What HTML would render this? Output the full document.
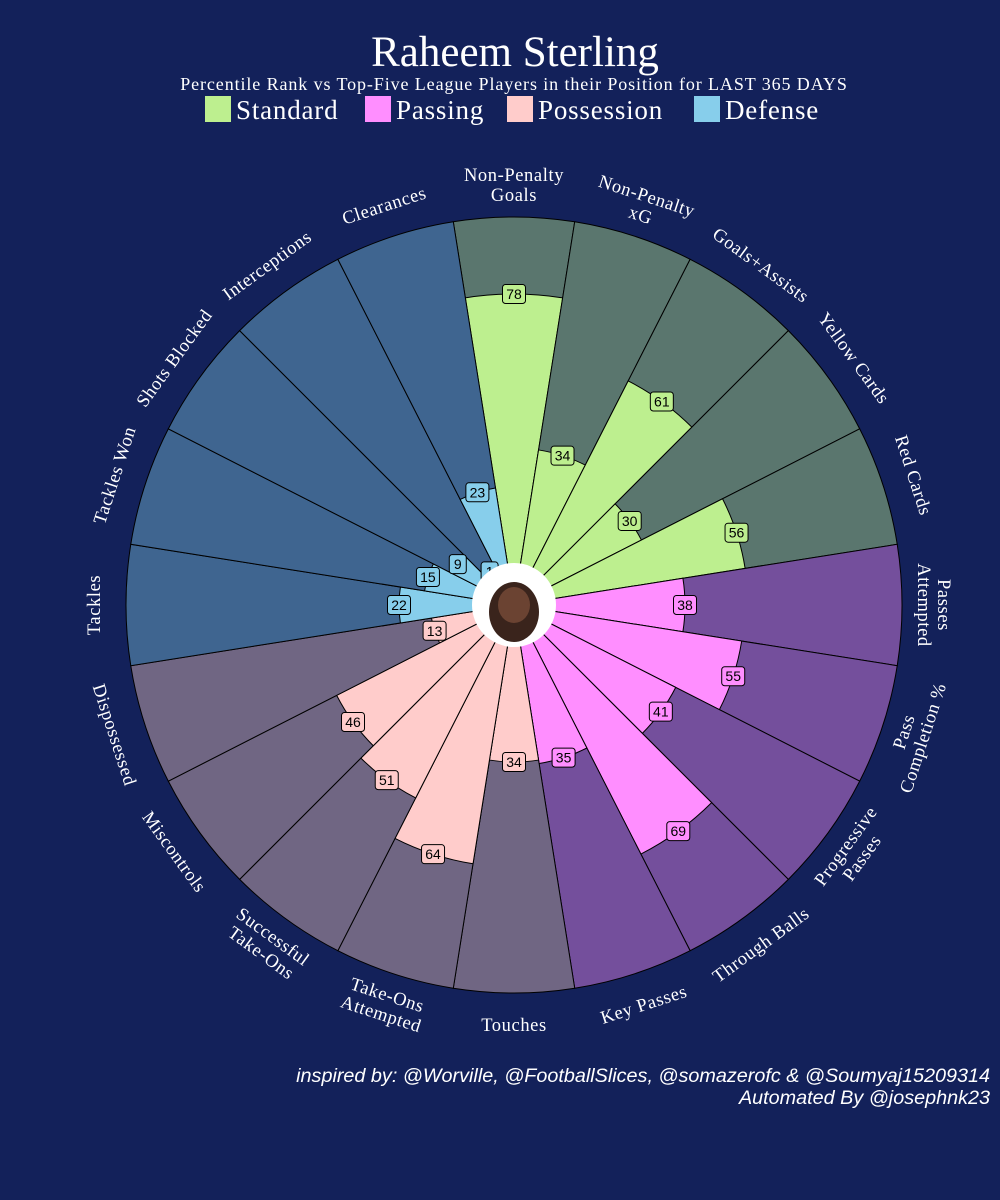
<!DOCTYPE html>
<html><head><meta charset="utf-8">
<style>
html,body{margin:0;padding:0;background:#13215A;}
svg{display:block;}
</style></head>
<body>
<svg id="chart" width="1000" height="1200" viewBox="0 0 1000 1200" xmlns="http://www.w3.org/2000/svg">
<rect width="1000" height="1200" fill="#13215A"/>
<text x="515" y="66" text-anchor="middle" fill="#fff" font-family="Liberation Serif, serif" font-size="43">Raheem Sterling</text>
<text x="514" y="90" text-anchor="middle" fill="#fff" font-family="Liberation Serif, serif" font-size="18" letter-spacing="0.9">Percentile Rank vs Top-Five League Players in their Position for LAST 365 DAYS</text>
<g id="legend"></g>
<g id="slices"></g>
<g id="labels"></g>
<g id="values"></g>
<circle cx="514" cy="605" r="42" fill="#fff"/>
<ellipse cx="514" cy="612" rx="25" ry="30" fill="#3a241c"/>
<ellipse cx="514" cy="605" rx="16" ry="18" fill="#6b4332"/>
<text x="990" y="1082" text-anchor="end" fill="#fff" font-family="Liberation Sans, sans-serif" font-style="italic" font-size="19.8">inspired by: @Worville, @FootballSlices, @somazerofc &amp; @Soumyaj15209314</text>
<text x="990" y="1104" text-anchor="end" fill="#fff" font-family="Liberation Sans, sans-serif" font-style="italic" font-size="19.8">Automated By @josephnk23</text>
</svg>
<script>
const categories = [["Non-Penalty","Goals"],["Non-Penalty","xG"],["Goals+Assists"],["Yellow Cards"],["Red Cards"],["Passes","Attempted"],["Pass","Completion %"],["Progressive","Passes"],["Through Balls"],["Key Passes"],["Touches"],["Take-Ons","Attempted"],["Successful","Take-Ons"],["Miscontrols"],["Dispossessed"],["Tackles"],["Tackles Won"],["Shots Blocked"],["Interceptions"],["Clearances"]];
const values = [78,34,61,30,56,38,55,41,69,35,34,64,51,46,13,22,15,9,1,23];
const groups = [0,0,0,0,0,1,1,1,1,1,2,2,2,2,2,3,3,3,3,3];
const groupNames = ["Standard","Passing","Possession","Defense"];
const fills = ["#BDEF8F","#FF8EFF","#FFCCCB","#87CEEB"];
const bgs = ["#5A766E","#744F9C","#706683","#3F6590"];
const NS="http://www.w3.org/2000/svg";
const cx=514, cy=605, R0=38, R=388;
const rScale=v=>R0+(R-R0)*v/100;
const pt=(r,a)=>[cx+r*Math.sin(a*Math.PI/180), cy-r*Math.cos(a*Math.PI/180)];
function wedge(r,a0,a1){const p0=pt(r,a0),p1=pt(r,a1);return `M${cx},${cy}L${p0[0]},${p0[1]}A${r},${r} 0 0 1 ${p1[0]},${p1[1]}Z`;}
const n=categories.length, step=360/n;
const sg=document.getElementById('slices'), lg=document.getElementById('labels'), vg=document.getElementById('values');
categories.forEach((c,i)=>{
  const a=i*step, a0=a-step/2, a1=a+step/2;
  const bg=document.createElementNS(NS,'path');
  bg.setAttribute('d',wedge(R,a0,a1));bg.setAttribute('fill',bgs[groups[i]]);bg.setAttribute('stroke','#000');bg.setAttribute('stroke-width','1');
  
  
  sg.appendChild(bg);
  const f=document.createElementNS(NS,'path');
  f.setAttribute('d',wedge(rScale(values[i]),a0,a1));f.setAttribute('fill',fills[groups[i]]);f.setAttribute('stroke','#000');f.setAttribute('stroke-width','1');
  
  
  sg.appendChild(f);
  const p=pt(420,a);
  let rot=a; if(a>90&&a<270) rot=a-180; if(a>=270) rot=a-360;
  const t=document.createElementNS(NS,'text');
  t.setAttribute('text-anchor','middle');t.setAttribute('fill','#fff');t.setAttribute('font-family','Liberation Serif, serif');t.setAttribute('font-size','18.5');t.setAttribute('letter-spacing','0.6');
  t.setAttribute('transform',`translate(${p[0]},${p[1]}) rotate(${rot})`);
  
  
  const lh=20, off=-(c.length-1)*lh/2+6;
  c.forEach((line,k)=>{const ts=document.createElementNS(NS,'tspan');ts.setAttribute('x',0);ts.setAttribute('y',off+k*lh);ts.textContent=line;t.appendChild(ts);});
  lg.appendChild(t);
  const q=pt(rScale(values[i]),a);
  const g=document.createElementNS(NS,'g');
  
  
  const rc=document.createElementNS(NS,'rect');
  const w=values[i]>=10?23:17;
  rc.setAttribute('x',q[0]-w/2);rc.setAttribute('y',q[1]-9.5);rc.setAttribute('width',w);rc.setAttribute('height',19);rc.setAttribute('rx',3);
  rc.setAttribute('fill',fills[groups[i]]);rc.setAttribute('stroke','#000');rc.setAttribute('stroke-width','1');
  g.appendChild(rc);
  const vt=document.createElementNS(NS,'text');
  vt.setAttribute('x',q[0]);vt.setAttribute('y',q[1]+5);vt.setAttribute('text-anchor','middle');vt.setAttribute('font-family','Liberation Sans, sans-serif');vt.setAttribute('font-size','14');vt.setAttribute('fill','#000');
  vt.textContent=values[i];
  g.appendChild(vt);
  vg.appendChild(g);
});
const leg=document.getElementById('legend');
const lx=[205,365,507,694];
groupNames.forEach((gn,i)=>{
  const r=document.createElementNS(NS,'rect');
  r.setAttribute('x',lx[i]);r.setAttribute('y',96);r.setAttribute('width',26);r.setAttribute('height',26);r.setAttribute('fill',fills[i]);
  
  
  leg.appendChild(r);
  const t=document.createElementNS(NS,'text');
  t.setAttribute('x',lx[i]+31);t.setAttribute('y',119);t.setAttribute('fill','#fff');t.setAttribute('font-family','Liberation Serif, serif');t.setAttribute('font-size','27');t.setAttribute('letter-spacing','0.8');
  t.textContent=gn;
  
  
  leg.appendChild(t);
});
</script>
</body></html>
